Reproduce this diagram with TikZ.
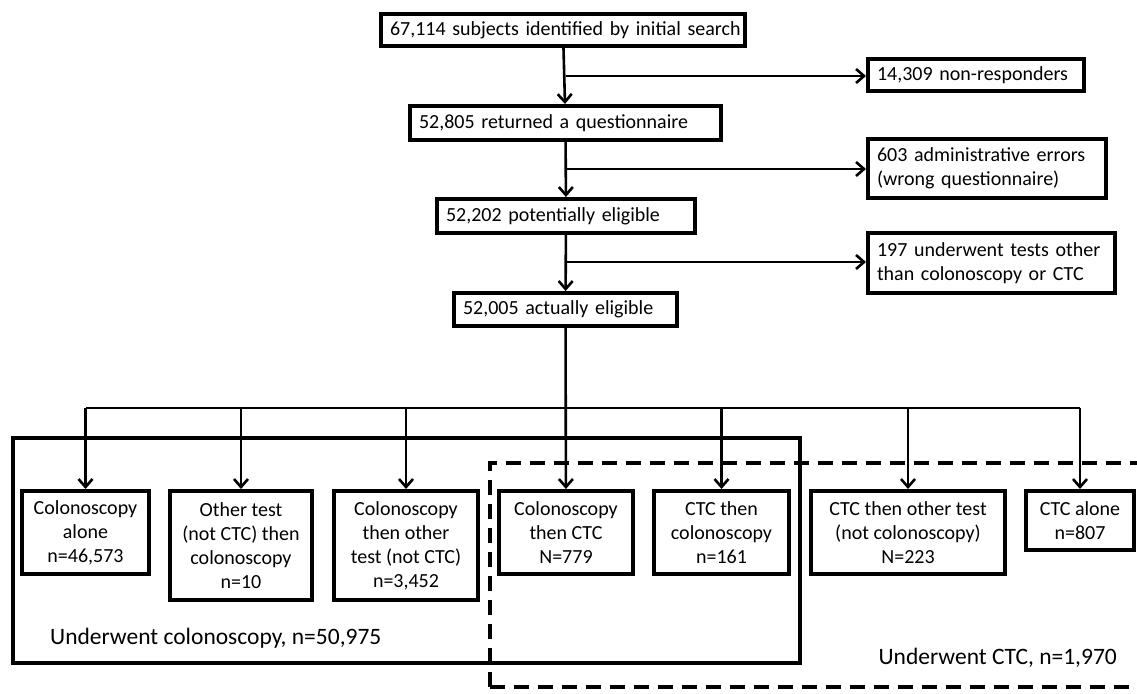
\documentclass[tikz,border=0pt]{standalone}
\usepackage{fontspec}
\setmainfont{Carlito}
\usetikzlibrary{arrows.meta}

\begin{document}
\begin{tikzpicture}[x=1pt,y=-1pt,
		font=\fontsize{20}{24}\selectfont,
		box/.style={draw, line width=4pt, fill=white, inner ysep=0pt, inner xsep=9pt, align=left},
		armbox/.style={draw, line width=4pt, fill=white, inner sep=0pt, align=center},
		grouptext/.style={inner sep=0pt, font=\fontsize{23.5}{28}\selectfont},
		flow/.style={line width=2.6pt, -{Straight Barb[length=8pt,width=14pt]}},
		feed/.style={line width=2.6pt},
		groupline/.style={line width=3.8pt},
		groupdash/.style={line width=4pt, dash pattern=on 15pt off 9pt}]
			\useasboundingbox (0,0) rectangle (1137,693);
			
			%Shape: Rectangle (groups)
			\draw [groupline] (13,438) rectangle (800,663) ;
			\draw [groupdash] (490,687) -- (490,463) -- (1160,463) ;
			\draw [groupdash] (490,687) -- (1160,687) ;
			
			% Text Node
			\node [box, minimum height=32pt, text width=346pt] (search) at (563,30) {\mbox{67,114 subjects identified by initial search}};
			% Text Node
			\node [box, minimum height=34pt, text width=293pt] (returned) at (565.5,123) {52,805 returned a questionnaire};
			% Text Node
			\node [box, minimum height=34pt, text width=240pt] (potential) at (566,216) {52,202 potentially eligible};
			% Text Node
			\node [box, minimum height=33pt, text width=205pt] (eligible) at (565.5,309.5) {52,005 actually eligible};
			% Text Node
			\node [box, minimum height=32pt, text width=198pt] (nonresp) at (976,75) {14,309 non-responders};
			% Text Node
			\node [box, minimum height=59pt, text width=220pt] (errors) at (987,168.5) {603 administrative errors\\(wrong questionnaire)};
			% Text Node
			\node [box, minimum height=60pt, text width=229pt] (othertests) at (991.5,263) {197 underwent tests other\\than colonoscopy or CTC};
			
			% Text Node
			\node [armbox, minimum width=127pt, minimum height=83pt] (colalone) at (85.5,532.5) {Colonoscopy\\alone\\n=46,573};
			% Text Node
			\node [armbox, minimum width=142pt, minimum height=109pt] (othercol) at (241,545.5) {Other test\\(not CTC) then\\colonoscopy\\n=10};
			% Text Node
			\node [armbox, minimum width=144pt, minimum height=109pt] (colother) at (406,545.5) {Colonoscopy\\then other\\test (not CTC)\\n=3,452};
			% Text Node
			\node [armbox, minimum width=134pt, minimum height=83pt] (colctc) at (566,532.5) {Colonoscopy\\then CTC\\N=779};
			% Text Node
			\node [armbox, minimum width=135pt, minimum height=83pt] (ctccol) at (721.5,532.5) {CTC then\\colonoscopy\\n=161};
			% Text Node
			\node [armbox, minimum width=194pt, minimum height=83pt] (ctcother) at (908,532.5) {CTC then other test\\(not colonoscopy)\\N=223};
			% Text Node
			\node [armbox, minimum width=108pt, minimum height=59pt] (ctcalone) at (1080,520.5) {CTC alone\\n=807};
			
			% Text Node
			\node [grouptext, anchor=base west] (colonlabel) at (50,644) {Underwent colonoscopy, n=50,975};
			% Text Node
			\node [grouptext, anchor=base east] (ctclabel) at (1117,664) {Underwent CTC, n=1,970};
			
			%Straight Lines (main stem)
			\coordinate (split1) at (566,76);
			\coordinate (split2) at (566,169);
			\coordinate (split3) at (566,262);
			\coordinate (hub) at (566,408);
			\draw [flow] (search) -- (returned) ;
			\draw [flow] (split1) -- (split1 -| nonresp.west) ;
			\draw [flow] (returned) -- (potential) ;
			\draw [flow] (split2) -- (split2 -| errors.west) ;
			\draw [flow] (potential) -- (eligible) ;
			\draw [flow] (split3) -- (split3 -| othertests.west) ;
			\draw [flow] (eligible) -- (colctc) ;
			
			%Straight Lines (distribution)
			\draw [feed] (hub -| colalone.north) -- (hub -| ctcalone.north) ;
			\draw [flow] (hub -| colalone.north) -- (colalone.north) ;
			\draw [flow] (hub -| othercol.north) -- (othercol.north) ;
			\draw [flow] (hub -| colother.north) -- (colother.north) ;
			\draw [flow] (hub -| ctccol.north) -- (ctccol.north) ;
			\draw [flow] (hub -| ctcother.north) -- (ctcother.north) ;
			\draw [flow] (hub -| ctcalone.north) -- (ctcalone.north) ;
			
		\end{tikzpicture}
\end{document}
